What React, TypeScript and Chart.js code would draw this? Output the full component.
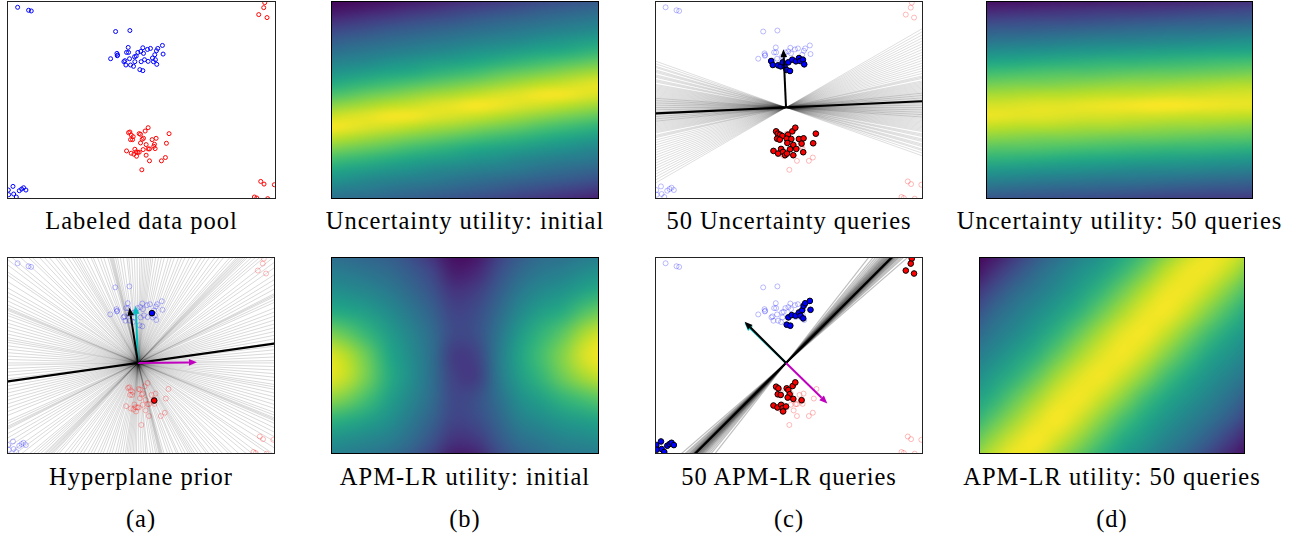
import React, { useEffect, useRef } from "react";
import { Chart, registerables } from "chart.js";

Chart.register(...registerables);

// ------------------------------------------------------------------ data
// 2-D pool of labelled points (same pool in every scatter panel)
const blueCluster: [number, number][] = [
  [-0.69, 2.29], [-0.26, 2.32],
  [-0.84, 1.47], [-0.65, 1.63], [-0.63, 1.58], [-0.64, 1.56], [-0.36, 1.66], [-0.31, 1.81],
  [-0.3, 1.66], [-0.27, 1.47], [-0.41, 1.41], [-0.44, 1.38], [-0.38, 1.28], [-0.24, 1.28],
  [-0.15, 1.24], [-0.11, 1.38], [-0.12, 1.53], [-0.07, 1.55], [0.04, 1.14], [0.13, 1.11],
  [0.08, 1.38], [0.18, 1.44], [0.29, 1.39], [0.42, 1.49], [0.45, 1.38], [0.55, 1.3],
  [0.51, 1.44], [0.49, 1.59], [0.54, 1.71], [0.58, 1.78], [0.72, 1.87], [0.74, 1.61],
  [0.36, 1.78], [0.27, 1.75], [0.13, 1.8], [0.07, 1.69], [0.15, 1.63], [-0.02, 1.66],
];
const blueCorners: [number, number][] = [
  [-3.64, 3.02], [-3.31, 2.93], [-3.23, 2.91],
  [-3.92, -2.49], [-3.78, -2.38], [-3.59, -2.51], [-3.52, -2.46], [-3.46, -2.42],
  [-3.39, -2.49], [-3.76, -2.61], [-3.91, -2.63], [-3.68, -2.7],
];
const redCluster: [number, number][] = [
  [0.29, -0.61], [0.2, -0.71], [0.02, -0.79], [-0.26, -0.74], [-0.3, -0.76], [-0.22, -0.83],
  [-0.16, -0.88], [0.06, -0.81], [0.15, -0.93], [0.11, -0.96], [-0.24, -0.97], [-0.18, -0.97],
  [0.41, -0.97], [0.53, -0.93], [0.92, -0.79], [0.84, -1.08], [0.48, -1.11], [0.46, -1.17],
  [0.23, -1.12], [0.06, -1.07], [0.02, -1.35], [-0.02, -1.35], [-0.07, -1.34], [-0.11, -1.26],
  [-0.22, -1.38], [-0.36, -1.31], [-0.06, -1.47], [-0.14, -1.41], [0.14, -1.27], [0.29, -1.25],
  [0.33, -1.25], [0.5, -1.24], [0.23, -1.44], [0.33, -1.61], [0.69, -1.61], [0.81, -1.51],
  [0.1, -1.88],
];
const redCorners: [number, number][] = [
  [3.8, 3.16], [3.77, 3.01], [3.62, 2.8], [3.87, 2.71],
  [3.68, -2.23], [3.78, -2.31], [4.09, -2.33], [3.49, -2.7], [3.56, -2.73], [3.89, -2.75],
];

// queried points
const priorQueryBlue: [number, number][] = [[0.42, 1.51]];
const priorQueryRed: [number, number][] = [[0.49, -1.14]];
const uncQueryBlue: [number, number][] = [
  [-0.45, 1.4], [-0.4, 1.28], [-0.24, 1.27], [-0.16, 1.24], [-0.1, 1.36], [-0.04, 1.23],
  [0.02, 1.13], [0.12, 1.1], [0.07, 1.36], [0.19, 1.44], [0.3, 1.39], [0.39, 1.49],
  [0.43, 1.4], [0.51, 1.44], [0.55, 1.3],
];
const uncQueryRed: [number, number][] = [
  [-0.3, -0.72], [-0.25, -0.79], [-0.18, -0.82], [-0.11, -0.86], [0.06, -0.82], [0.19, -0.72],
  [0.28, -0.61], [-0.27, -0.94], [-0.19, -0.97], [0.02, -0.94], [0.16, -0.95], [0.39, -0.95],
  [0.53, -0.93], [0.9, -0.79], [0.82, -1.08], [0.04, -1.07], [0.22, -1.13], [0.47, -1.09],
  [0.12, -1.26], [0.31, -1.25], [-0.38, -1.31], [-0.24, -1.39], [-0.15, -1.25], [-0.09, -1.34],
  [-0.03, -1.44], [0.03, -1.39], [0.22, -1.44], [0.52, -1.35],
];
const apmQueryBlue: [number, number][] = [
  [0.07, 1.38], [0.17, 1.45], [0.29, 1.43], [0.39, 1.53], [0.44, 1.43], [0.52, 1.35],
  [0.49, 1.6], [0.53, 1.73], [0.58, 1.81], [0.72, 1.88], [0.74, 1.61], [0.02, 1.16], [0.13, 1.13],
  [-3.92, -2.49], [-3.78, -2.38], [-3.59, -2.51], [-3.52, -2.46], [-3.46, -2.42],
  [-3.39, -2.49], [-3.76, -2.61], [-3.91, -2.63], [-3.68, -2.7],
];
const apmQueryRed: [number, number][] = [
  [-0.3, -0.72], [-0.23, -0.77], [-0.25, -0.95], [-0.16, -0.97], [0.02, -0.77], [0.07, -0.82],
  [0.2, -0.7], [0.28, -0.59], [0.11, -0.95], [0.22, -1.09], [0.05, -1.05], [0.47, -1.13],
  [-0.38, -1.29], [-0.26, -1.35], [-0.15, -1.27], [-0.1, -1.37], [0.0, -1.32], [-0.09, -1.47],
  [3.8, 3.16], [3.77, 3.01], [3.62, 2.8], [3.87, 2.71],
];

// sampled hyperplanes (angle in degrees of each line through the origin)
const priorAngles = [
  -89.5, -88, -86.5, -85, -84, -82, -80.5, -79, -78, -77, -76.5, -76, -75.5, -75, -74, -72, -70.5,
  -69, -67, -66, -64, -62.5, -61, -60, -59, -58, -56.5, -55, -53, -52, -50, -48.5, -47, -45, -44,
  -42, -40, -38.5, -37, -35, -34, -32, -30, -28.5, -27, -25.5, -24, -23, -22.5, -22, -21, -20,
  -18.5, -17, -15.5, -14, -12.5, -11, -10, -9, -7.5, -6, -4.5, -3, -1.5, 0, 1, 2.5, 4, 5.5, 7, 8.5,
  10, 11.5, 13, 14.5, 16, 17.5, 19, 20.5, 22, 24, 25, 26, 26.5, 27, 28.5, 30, 31.5, 33, 35, 36.5,
  38, 40, 41, 42, 43, 44, 44.5, 45, 45.5, 46, 46.5, 47, 48, 49, 51, 52.5, 54, 56, 57.5, 59, 61,
  62.5, 64, 66, 67.5, 69, 71, 72.5, 74, 76, 77.5, 79, 80.5, 82, 83, 84, 85, 86, 87, 88, 89,
];
const uncAngles = [
  -19.5, -18.5, -17.5, -17, -16, -15.5, -15, -14, -13.5, -13, -12, -11.5, -11, -10, -9.5, -9, -8.5,
  -8, -7.5, -7, -6.5, -6, -5.5, -5, -4.5, -4, -4, -3.5, -3, -3, -2.5, -2, -2, -1.5, -1, -1, -0.5, 0,
  0, 0.5, 1, 1, 1.5, 2, 2, 2.5, 3, 3, 3.5, 4, 4, 4.5, 5, 5, 5.5, 6, 6, 6.5, 7, 7.5, 8, 8.5, 9, 9.5,
  10, 10.5, 11, 12, 12.5, 13, 14, 15, 16, 17, 18, 19, 20, 21, 22, 23, 24, 25, 26, 27, 28, 29, 30,
];
const apmAngles = [
  41, 42, 42.5, 43, 43.3, 43.6, 43.9, 44.1, 44.3, 44.5, 44.6, 44.7, 44.8, 44.9, 45, 45, 45.1, 45.2,
  45.3, 45.4, 45.5, 45.7, 45.9, 46.1, 46.3, 46.5, 46.8, 47, 47.3, 47.6, 48, 48.4, 49, 49.7, 50.5, 52,
];
const priorMeanAngle = 8.1;
const uncMeanAngle = 2.6;
const apmMeanAngle = 45;

// arrows from the origin: [angle deg, length]
const priorArrowTrue: [number, number] = [92.3, 1.73];
const priorArrowMean: [number, number] = [98.8, 1.7];
const priorArrowQuery: [number, number] = [0.6, 1.78];
const uncArrowMean: [number, number] = [92.6, 1.76];
const apmArrowTrue: [number, number] = [136, 1.74];
const apmArrowMean: [number, number] = [135, 1.77];
const apmArrowQuery: [number, number] = [-44.5, 1.75];

// utility maps: cell centres and values (0..100)
const gridX = [-4.2, -3.54, -2.88, -2.22, -1.56, -0.9, -0.24, 0.42, 1.08, 1.74, 2.4, 3.06, 3.72, 4.38];
const gridY = [3.46, 2.81, 2.16, 1.52, 0.87, 0.22, -0.42, -1.07, -1.72, -2.36, -3.01];
const gridYFine = [
  3.62, 3.29, 2.97, 2.65, 2.33, 2.0, 1.68, 1.36, 1.04, 0.71, 0.39, 0.07, -0.26, -0.58, -0.9,
  -1.23, -1.55, -1.87, -2.2, -2.52, -2.84, -3.17,
];

const uncInitialUtility = [
  [0, 0, 0, 0, 0, 1, 2, 4, 6, 8, 10, 13, 15, 18],
  [0, 1, 2, 3, 5, 7, 9, 12, 14, 17, 19, 22, 24, 27],
  [4, 6, 8, 10, 13, 15, 18, 20, 23, 25, 28, 30, 32, 34],
  [12, 14, 17, 19, 22, 24, 26, 29, 31, 33, 35, 37, 39, 41],
  [20, 23, 25, 28, 30, 32, 34, 36, 38, 40, 42, 44, 46, 48],
  [28, 31, 33, 35, 37, 39, 41, 43, 45, 47, 50, 52, 55, 57],
  [36, 38, 40, 42, 44, 46, 48, 51, 53, 56, 59, 61, 64, 67],
  [43, 45, 47, 50, 52, 55, 57, 60, 63, 66, 69, 72, 75, 78],
  [51, 53, 56, 59, 61, 64, 67, 70, 74, 77, 80, 83, 86, 88],
  [60, 63, 66, 69, 72, 75, 78, 81, 84, 87, 90, 92, 95, 97],
  [70, 73, 77, 80, 83, 86, 88, 91, 94, 96, 99, 99, 96, 94],
  [81, 84, 87, 90, 92, 95, 97, 100, 98, 95, 93, 90, 87, 85],
  [91, 94, 96, 99, 99, 96, 94, 92, 89, 86, 83, 80, 77, 74],
  [100, 98, 95, 93, 90, 87, 85, 82, 79, 76, 72, 69, 66, 63],
  [92, 89, 86, 83, 80, 77, 74, 71, 68, 65, 62, 59, 56, 53],
  [82, 79, 76, 73, 69, 66, 63, 60, 58, 55, 52, 50, 47, 45],
  [71, 68, 65, 62, 59, 56, 54, 51, 49, 46, 44, 42, 41, 38],
  [61, 58, 55, 52, 50, 47, 45, 43, 42, 40, 37, 35, 33, 31],
  [51, 49, 46, 44, 42, 41, 38, 36, 34, 32, 30, 28, 26, 23],
  [43, 41, 40, 37, 35, 33, 31, 29, 27, 24, 22, 19, 17, 14],
  [36, 34, 32, 30, 28, 26, 23, 21, 18, 16, 13, 11, 8, 6],
  [29, 27, 24, 22, 19, 17, 14, 12, 10, 7, 5, 3, 2, 1],
];
const unc50Utility = [
  [0, 0, 0, 0, 0, 0, 0, 0, 0, 0, 0, 1, 1, 2],
  [2, 2, 2, 3, 4, 4, 5, 6, 7, 7, 8, 9, 10, 11],
  [9, 10, 11, 12, 13, 14, 15, 15, 16, 17, 18, 19, 20, 21],
  [19, 20, 21, 22, 22, 23, 24, 25, 26, 27, 28, 29, 29, 30],
  [29, 30, 30, 31, 32, 33, 34, 35, 36, 37, 37, 38, 39, 40],
  [38, 39, 40, 41, 42, 43, 44, 44, 45, 46, 47, 48, 49, 50],
  [48, 49, 50, 51, 52, 53, 54, 55, 56, 57, 58, 59, 59, 60],
  [59, 60, 61, 62, 63, 64, 65, 65, 66, 67, 68, 69, 70, 71],
  [69, 70, 71, 72, 73, 73, 74, 75, 76, 76, 77, 78, 79, 80],
  [78, 79, 80, 80, 81, 82, 83, 84, 84, 85, 86, 87, 88, 88],
  [87, 87, 88, 89, 89, 90, 91, 91, 92, 93, 93, 94, 94, 95],
  [94, 94, 95, 96, 96, 97, 98, 99, 100, 100, 99, 98, 97, 97],
  [98, 97, 96, 96, 95, 94, 94, 93, 93, 92, 91, 91, 90, 90],
  [91, 90, 89, 89, 88, 87, 87, 86, 85, 84, 84, 83, 82, 81],
  [83, 82, 81, 80, 80, 79, 78, 77, 77, 76, 75, 74, 74, 73],
  [74, 73, 73, 72, 71, 70, 69, 68, 67, 66, 66, 65, 64, 63],
  [64, 64, 63, 62, 61, 60, 59, 58, 57, 56, 55, 54, 53, 52],
  [54, 53, 52, 51, 50, 49, 48, 47, 46, 46, 45, 44, 43, 42],
  [44, 43, 42, 41, 40, 39, 38, 38, 37, 36, 35, 34, 33, 32],
  [34, 33, 32, 31, 30, 30, 29, 28, 27, 26, 25, 24, 24, 23],
  [24, 23, 23, 22, 21, 20, 19, 18, 17, 16, 16, 15, 14, 13],
  [15, 14, 13, 12, 12, 11, 9, 8, 7, 7, 6, 5, 4, 4],
];
const apmInitialUtility = [
  [33, 32, 30, 28, 22, 12, 2, 4, 17, 27, 33, 35, 38, 40],
  [42, 40, 37, 34, 28, 20, 7, 10, 23, 33, 39, 42, 47, 50],
  [50, 48, 45, 41, 34, 26, 15, 18, 29, 40, 47, 51, 58, 63],
  [62, 60, 55, 48, 40, 31, 20, 23, 34, 47, 56, 62, 73, 80],
  [82, 76, 66, 55, 45, 35, 22, 24, 38, 54, 65, 75, 88, 96],
  [97, 90, 77, 60, 48, 36, 17, 19, 40, 58, 70, 82, 95, 100],
  [98, 92, 79, 62, 49, 36, 19, 17, 39, 55, 66, 78, 87, 93],
  [85, 80, 70, 57, 46, 35, 21, 24, 36, 49, 57, 65, 71, 76],
  [65, 62, 57, 50, 41, 31, 20, 23, 32, 43, 48, 53, 56, 60],
  [50, 48, 45, 42, 35, 25, 14, 16, 27, 36, 40, 44, 46, 48],
  [42, 40, 37, 34, 27, 17, 5, 7, 20, 29, 34, 37, 38, 40],
];
const apm50Utility = [
  [0, 3, 14, 25, 34, 42, 49, 57, 67, 79, 90, 98, 97, 89],
  [2, 13, 24, 34, 42, 49, 56, 66, 78, 90, 98, 98, 90, 78],
  [13, 24, 34, 41, 48, 56, 66, 78, 89, 98, 98, 90, 79, 67],
  [23, 33, 41, 48, 56, 65, 77, 88, 97, 99, 91, 80, 68, 57],
  [32, 40, 47, 55, 65, 77, 88, 97, 99, 91, 80, 68, 58, 50],
  [40, 47, 55, 64, 76, 87, 96, 99, 92, 81, 69, 58, 50, 43],
  [47, 55, 64, 75, 87, 96, 99, 92, 82, 69, 59, 50, 43, 36],
  [55, 63, 75, 86, 96, 99, 92, 82, 69, 59, 51, 44, 36, 27],
  [62, 74, 85, 95, 100, 93, 82, 70, 60, 51, 44, 37, 28, 17],
  [74, 85, 95, 100, 93, 83, 71, 60, 52, 44, 37, 28, 17, 6],
  [84, 94, 100, 94, 83, 72, 61, 52, 45, 37, 29, 18, 7, 0],
];

const captionsTop = ["Labeled data pool", "Uncertainty utility: initial", "50 Uncertainty queries", "Uncertainty utility: 50 queries"];
const captionsBottom = ["Hyperplane prior", "APM-LR utility: initial", "50 APM-LR queries", "APM-LR utility: 50 queries"];
const subLabels = ["(a)", "(b)", "(c)", "(d)"];

// ------------------------------------------------------------------ styling / layout
const X_MIN = -3.93, X_MAX = 4.11, Y_MIN = -2.73, Y_MAX = 3.18;
const FONT = '"Liberation Serif", "Times New Roman", serif';

const VIRIDIS = ["#440154", "#482475", "#414487", "#355f8d", "#2a788e", "#21918c", "#22a884", "#44bf70", "#7ad151", "#bddf26", "#fde725"];
function hex(h: string) {
  return [parseInt(h.slice(1, 3), 16), parseInt(h.slice(3, 5), 16), parseInt(h.slice(5, 7), 16)];
}
function viridisRGB(t: number) {
  const c = Math.max(0, Math.min(1, t)) * 10;
  const i = Math.min(9, Math.floor(c));
  const f = c - i;
  const a = hex(VIRIDIS[i]), b = hex(VIRIDIS[i + 1]);
  return [0, 1, 2].map((k) => Math.round(a[k] + (b[k] - a[k]) * f));
}
const viridis = (t: number) => `rgb(${viridisRGB(t).join(",")})`;

const pts = (p: [number, number][]) => p.map(([x, y]) => ({ x, y }));

function openSet(p: [number, number][], color: string, r: number, w: number, order: number) {
  return { data: pts(p), pointRadius: r, pointBorderWidth: w, pointBorderColor: color, pointBackgroundColor: "rgba(0,0,0,0)", order };
}
function filledSet(p: [number, number][], color: string, order: number) {
  return { data: pts(p), pointRadius: 2.8, pointBorderWidth: 1, pointBorderColor: "#000", pointBackgroundColor: color, order };
}
function lineSet(angle: number, color: string, width: number, order: number) {
  const r = (angle * Math.PI) / 180, L = 12;
  return {
    data: [{ x: -L * Math.cos(r), y: -L * Math.sin(r) }, { x: L * Math.cos(r), y: L * Math.sin(r) }],
    showLine: true, borderColor: color, borderWidth: width, pointRadius: 0, order,
  };
}
function faintPool(order: number) {
  return [
    openSet([...blueCluster, ...blueCorners], "rgba(0,0,255,0.3)", 2.5, 0.9, order),
    openSet([...redCluster, ...redCorners], "rgba(255,0,0,0.3)", 2.5, 0.9, order),
  ];
}

type Arrow = { a: [number, number]; color: string };
function arrowPlugin(arrows: Arrow[]) {
  return {
    id: "arrows",
    afterDatasetsDraw(chart: any) {
      const { ctx } = chart;
      const xs = chart.scales.x, ys = chart.scales.y;
      arrows.forEach(({ a, color }) => {
        const r = (a[0] * Math.PI) / 180;
        const x0 = xs.getPixelForValue(0), y0 = ys.getPixelForValue(0);
        const x1 = xs.getPixelForValue(a[1] * Math.cos(r)), y1 = ys.getPixelForValue(a[1] * Math.sin(r));
        const dx = x1 - x0, dy = y1 - y0, L = Math.hypot(dx, dy);
        const ux = dx / L, uy = dy / L;
        const hl = 8, hw = 3.3;
        const bx = x1 - ux * hl, by = y1 - uy * hl;
        ctx.save();
        ctx.strokeStyle = color;
        ctx.fillStyle = color;
        ctx.lineWidth = 2;
        ctx.beginPath();
        ctx.moveTo(x0, y0);
        ctx.lineTo(bx, by);
        ctx.stroke();
        ctx.beginPath();
        ctx.moveTo(x1, y1);
        ctx.lineTo(bx - uy * hw, by + ux * hw);
        ctx.lineTo(bx + uy * hw, by - ux * hw);
        ctx.closePath();
        ctx.fill();
        ctx.restore();
      });
    },
  };
}

// smooth rendering of the utility cells: one pixel per cell, scaled onto the scale extent
function heatPlugin(grid: number[][], gx: number[], gy: number[]) {
  return {
    id: "heatSmooth",
    afterDatasetsDraw(chart: any) {
      const { ctx, chartArea } = chart;
      const xs = chart.scales.x, ys = chart.scales.y;
      const cols = gx.length, rows = gy.length;
      const off = document.createElement("canvas");
      off.width = cols;
      off.height = rows;
      const octx = off.getContext("2d")!;
      const img = octx.createImageData(cols, rows);
      grid.forEach((row, j) => row.forEach((v, i) => {
        const c = viridisRGB(v / 100), k = (j * cols + i) * 4;
        img.data[k] = c[0]; img.data[k + 1] = c[1]; img.data[k + 2] = c[2]; img.data[k + 3] = 255;
      }));
      octx.putImageData(img, 0, 0);
      const hw = (gx[cols - 1] - gx[0]) / (cols - 1) / 2, hh = (gy[0] - gy[rows - 1]) / (rows - 1) / 2;
      const l = xs.getPixelForValue(gx[0] - hw), r = xs.getPixelForValue(gx[cols - 1] + hw);
      const t = ys.getPixelForValue(gy[0] + hh), b = ys.getPixelForValue(gy[rows - 1] - hh);
      ctx.save();
      ctx.beginPath();
      ctx.rect(chartArea.left, chartArea.top, chartArea.right - chartArea.left, chartArea.bottom - chartArea.top);
      ctx.clip();
      ctx.imageSmoothingEnabled = true;
      ctx.imageSmoothingQuality = "high";
      ctx.drawImage(off, l, t, r - l, b - t);
      ctx.restore();
    },
  };
}

function baseOptions() {
  return {
    responsive: false,
    animation: false,
    devicePixelRatio: 1,
    events: [],
    layout: { padding: 0, autoPadding: false },
    plugins: { legend: { display: false }, tooltip: { enabled: false } },
    scales: {
      x: { type: "linear", min: X_MIN, max: X_MAX, display: false },
      y: { type: "linear", min: Y_MIN, max: Y_MAX, display: false },
    },
  };
}

function ChartCanvas({ make, width, height }: { make: () => any; width: number; height: number }) {
  const ref = useRef<HTMLCanvasElement | null>(null);
  useEffect(() => {
    if (!ref.current) return;
    const chart = new Chart(ref.current, make());
    return () => chart.destroy();
  }, []);
  return <canvas ref={ref} width={width} height={height} style={{ width, height, display: "block" }} />;
}

type Box = [number, number, number, number];
const frame = (b: Box, color: string): any => ({
  position: "absolute", left: b[0], top: b[1], width: b[2], height: b[3], boxSizing: "border-box",
  border: `1px solid ${color}`, overflow: "hidden", background: "#fff",
});

function ScatterPanel({ box, datasets, arrows }: { box: Box; datasets: any[]; arrows: Arrow[] }) {
  return (
    <div style={frame(box, "#222")}>
      <ChartCanvas
        width={box[2] - 2}
        height={box[3] - 2}
        make={() => ({ type: "scatter", data: { datasets }, options: baseOptions(), plugins: [arrowPlugin(arrows)] })}
      />
    </div>
  );
}

function HeatPanel({ box, grid, gx, gy }: { box: Box; grid: number[][]; gx: number[]; gy: number[] }) {
  const data: any[] = [];
  const colors: string[] = [];
  grid.forEach((row, j) => row.forEach((v, i) => {
    data.push({ x: gx[i], y: gy[j] });
    colors.push(viridis(v / 100));
  }));
  const w = box[2] - 2;
  const cellPx = ((gx[1] - gx[0]) * w) / (X_MAX - X_MIN);
  return (
    <div style={frame(box, "#000")}>
      <ChartCanvas
        width={w}
        height={box[3] - 2}
        make={() => ({
          type: "scatter",
          data: {
            datasets: [{
              data, pointStyle: "rect", pointRadius: cellPx * 0.75, pointBorderWidth: 0,
              pointBackgroundColor: colors, pointBorderColor: colors,
            }],
          },
          options: baseOptions(),
          plugins: [heatPlugin(grid, gx, gy)],
        })}
      />
    </div>
  );
}

const boxes: Record<string, Box> = {
  a1: [7, 1, 269, 198], b1: [331, 1, 268, 198], c1: [655, 1, 268, 198], d1: [986, 1, 267, 198],
  a2: [7, 257, 268, 197], b2: [331, 257, 268, 197], c2: [655, 257, 268, 197], d2: [979, 257, 266, 197],
};

function Caption({ text, cx, top }: { text: string; cx: number; top: number }) {
  return (
    <div style={{
      position: "absolute", left: cx - 200, top, width: 400, textAlign: "center", fontFamily: FONT,
      fontSize: 24.5, lineHeight: "28px", letterSpacing: 1, color: "#000", whiteSpace: "nowrap",
    }}>{text}</div>
  );
}

export default function App() {
  const a1Sets = [
    openSet([...blueCluster, ...blueCorners], "#0000ff", 2, 1, 1),
    openSet([...redCluster, ...redCorners], "#ff0000", 2, 1, 1),
  ];
  const a2Sets = [
    ...priorAngles.map((a) => lineSet(a, "rgba(0,0,0,0.15)", 1, 6)),
    lineSet(priorMeanAngle, "#000", 2.2, 4),
    ...faintPool(3),
    filledSet(priorQueryBlue, "#0000ff", 1),
    filledSet(priorQueryRed, "#ff0000", 1),
  ];
  const c1Sets = [
    ...uncAngles.map((a) => lineSet(a, "rgba(0,0,0,0.13)", 1, 6)),
    lineSet(uncMeanAngle, "#000", 2.2, 4),
    ...faintPool(3),
    filledSet(uncQueryBlue, "#0000ff", 1),
    filledSet(uncQueryRed, "#ff0000", 1),
  ];
  const c2Sets = [
    ...apmAngles.map((a) => lineSet(a, "rgba(0,0,0,0.25)", 1.2, 6)),
    lineSet(apmMeanAngle, "#000", 2.2, 4),
    ...faintPool(3),
    filledSet(apmQueryBlue, "#0000ff", 1),
    filledSet(apmQueryRed, "#ff0000", 1),
  ];
  const keys = ["a", "b", "c", "d"];
  return (
    <div style={{ position: "absolute", left: 0, top: 0, width: 1305, height: 535, background: "#fff" }}>
      <ScatterPanel box={boxes.a1} datasets={a1Sets} arrows={[]} />
      <HeatPanel box={boxes.b1} grid={uncInitialUtility} gx={gridX} gy={gridYFine} />
      <ScatterPanel box={boxes.c1} datasets={c1Sets} arrows={[{ a: uncArrowMean, color: "#000" }]} />
      <HeatPanel box={boxes.d1} grid={unc50Utility} gx={gridX} gy={gridYFine} />
      <ScatterPanel
        box={boxes.a2}
        datasets={a2Sets}
        arrows={[
          { a: priorArrowTrue, color: "#00bfbf" },
          { a: priorArrowQuery, color: "#bf00bf" },
          { a: priorArrowMean, color: "#000" },
        ]}
      />
      <HeatPanel box={boxes.b2} grid={apmInitialUtility} gx={gridX} gy={gridY} />
      <ScatterPanel
        box={boxes.c2}
        datasets={c2Sets}
        arrows={[
          { a: apmArrowTrue, color: "#00bfbf" },
          { a: apmArrowQuery, color: "#bf00bf" },
          { a: apmArrowMean, color: "#000" },
        ]}
      />
      <HeatPanel box={boxes.d2} grid={apm50Utility} gx={gridX} gy={gridY} />
      {keys.map((k, i) => {
        const t = boxes[k + "1"], b = boxes[k + "2"];
        return (
          <React.Fragment key={k}>
            <Caption text={captionsTop[i]} cx={t[0] + t[2] / 2} top={207} />
            <Caption text={captionsBottom[i]} cx={b[0] + b[2] / 2} top={463} />
            <Caption text={subLabels[i]} cx={b[0] + b[2] / 2} top={505} />
          </React.Fragment>
        );
      })}
    </div>
  );
}
